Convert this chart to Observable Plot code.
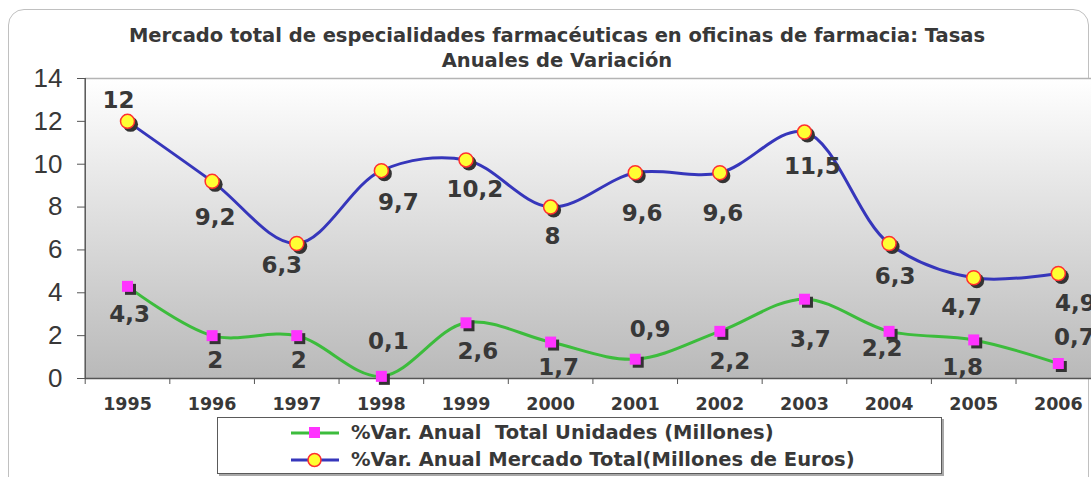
<!DOCTYPE html>
<html><head><meta charset="utf-8">
<script src="https://cdn.jsdelivr.net/npm/d3@7"></script>
<script src="https://cdn.jsdelivr.net/npm/@observablehq/plot@0.6"></script>
<style>
html,body{margin:0;padding:0;background:#fff;}
#wrap{position:relative;width:1091px;height:477px;overflow:hidden;font-family:"DejaVu Sans",Verdana,sans-serif;color:#333;}
#frame{position:absolute;left:8px;top:9px;width:1081px;height:520px;border:1px solid #c0c0c0;border-radius:16px;box-sizing:border-box;}
#chart{position:absolute;left:0;top:0;}
#title{position:absolute;left:0;width:1114px;top:23px;text-align:center;font-weight:bold;font-size:19.5px;line-height:25px;color:#383838;}
#legend{position:absolute;left:217px;top:417px;width:725px;height:57px;box-sizing:border-box;border:1px solid #5a5a5a;background:#fff;box-shadow:2px 2px 0 #a8a8a8;}
.lrow{position:absolute;left:0;height:24px;}
.lrow svg{position:absolute;left:72px;top:0;}
.lrow span{position:absolute;left:133px;top:1px;white-space:pre;font-weight:bold;font-size:19.5px;line-height:22px;color:#383838;}
</style></head>
<body>
<div id="wrap">
  <div id="frame"></div>
  <div id="chart"></div>
  <div id="title">Mercado total de especialidades farmacéuticas en oficinas de farmacia: Tasas<br>Anuales de Variación</div>
  <div id="legend"></div>
</div>
<script>
// ---- data ----
const years = [1995, 1996, 1997, 1998, 1999, 2000, 2001, 2002, 2003, 2004, 2005, 2006];
const unidades = [4.3, 2, 2, 0.1, 2.6, 1.7, 0.9, 2.2, 3.7, 2.2, 1.8, 0.7];
const mercado = [12, 9.2, 6.3, 9.7, 10.2, 8, 9.6, 9.6, 11.5, 6.3, 4.7, 4.9];
const yTicks = [0, 2, 4, 6, 8, 10, 12, 14];
const seriesNames = ["%Var. Anual  Total Unidades (Millones)", "%Var. Anual Mercado Total(Millones de Euros)"];

// ---- label placement (pixel offsets from each marker) ----
const mercadoDx = [-9, 3, -15, 17, 9, 2, 7, 3, 8, 6, -12, 17];
const mercadoDy = [-21, 36, 22, 32, 30, 30, 41, 41, 35, 33, 30, 30];
const unidadesDx = [2, 3, 2, 7, 12, 8, 15, 10, 6, -7, -11, 16];
const unidadesDy = [28, 25, 25, -35, 29, 26, -30, 30, 40, 17, 28, -26];

const rows = years.map((year, i) => ({year, unidades: unidades[i], mercado: mercado[i]}));
const fmt = v => String(v).replace(".", ",");
const halfTicks = years.map(y => y - 0.5).concat([years[years.length - 1] + 0.5]);

const green = "#3cbc3c", blue = "#3636bb", magenta = "#ff33ff", yellow = "#ffff33", red = "#ff3030", shadow = "#333";
const labelFont = {fontSize: 23, fontWeight: "bold", fill: "#383838", fontFamily: "DejaVu Sans"};

const labelMarks = [];
years.forEach((yr, i) => {
  labelMarks.push(Plot.text([rows[i]], {x: "year", y: "mercado", text: d => fmt(d.mercado), dx: mercadoDx[i], dy: mercadoDy[i], ...labelFont}));
  labelMarks.push(Plot.text([rows[i]], {x: "year", y: "unidades", text: d => fmt(d.unidades), dx: unidadesDx[i], dy: unidadesDy[i], ...labelFont}));
});

const step = 84.62;
const plot = Plot.plot({
  width: 1091, height: 477,
  marginLeft: 85, marginRight: 0, marginTop: 78, marginBottom: 99,
  x: {type: "linear", domain: [years[0] - 0.5, years[years.length - 1] + 0.5], range: [84.7, 84.7 + 12 * step]},
  y: {domain: [0, 14], range: [378, 78]},
  style: {background: "transparent", color: "#383838", overflow: "hidden"},
  marks: [
    Plot.frame({fill: "url(#bgGrad)", stroke: null}),
    Plot.ruleY([14], {stroke: "#b4b4b4", strokeWidth: 1.5}),
    Plot.axisY(yTicks, {tickSize: 8, tickPadding: 15, fontSize: 26, fontFamily: "Liberation Sans", label: null, stroke: "#555", fill: "#383838"}),
    Plot.axisX(halfTicks, {tickSize: 6, tickFormat: () => "", label: null, stroke: "#555"}),
    Plot.axisX(years, {tickSize: 0, tickPadding: 19, tickFormat: d => String(d), fontSize: 17.5, fontWeight: "bold", fontFamily: "DejaVu Sans", label: null, fill: "#383838"}),
    Plot.ruleX([years[0] - 0.5], {stroke: "#555", strokeWidth: 1.5}),
    Plot.ruleY([0], {stroke: "#555", strokeWidth: 1.5}),
    Plot.line(rows, {x: "year", y: "unidades", curve: "catmull-rom", stroke: green, strokeWidth: 3}),
    Plot.line(rows, {x: "year", y: "mercado", curve: "catmull-rom", stroke: blue, strokeWidth: 3}),
    Plot.dot(rows, {x: "year", y: "unidades", symbol: "square", r: 6.2, fill: shadow, dx: 3, dy: 3}),
    Plot.dot(rows, {x: "year", y: "unidades", symbol: "square", r: 6.2, fill: magenta}),
    Plot.dot(rows, {x: "year", y: "mercado", r: 7.5, fill: shadow, dx: 3, dy: 3}),
    Plot.dot(rows, {x: "year", y: "mercado", r: 7, fill: yellow, stroke: red, strokeWidth: 1.5}),
    ...labelMarks
  ]
});

const svg = d3.select(plot);
const defs = svg.insert("defs", ":first-child");
const grad = defs.append("linearGradient").attr("id", "bgGrad").attr("x1", 0).attr("y1", 0).attr("x2", 0).attr("y2", 1);
grad.append("stop").attr("offset", "0%").attr("stop-color", "#ffffff");
grad.append("stop").attr("offset", "100%").attr("stop-color", "#b9b9b9");
document.getElementById("chart").appendChild(plot);

// ---- legend ----
const legend = d3.select("#legend");
const legendItems = [
  {name: seriesNames[0], stroke: green, square: true},
  {name: seriesNames[1], stroke: blue, square: false}
];
legendItems.forEach((it, i) => {
  const row = legend.append("div").attr("class", "lrow").style("top", (i === 0 ? 3 : 30) + "px").style("width", "100%");
  const s = row.append("svg").attr("width", 52).attr("height", 24);
  s.append("line").attr("x1", 1).attr("x2", 49).attr("y1", 12).attr("y2", 12).attr("stroke", it.stroke).attr("stroke-width", 3);
  if (it.square) s.append("rect").attr("x", 19).attr("y", 6).attr("width", 11).attr("height", 11).attr("fill", magenta);
  else s.append("circle").attr("cx", 24.5).attr("cy", 12).attr("r", 6.5).attr("fill", yellow).attr("stroke", red).attr("stroke-width", 1.5);
  row.append("span").text(it.name);
});
</script>
</body></html>
